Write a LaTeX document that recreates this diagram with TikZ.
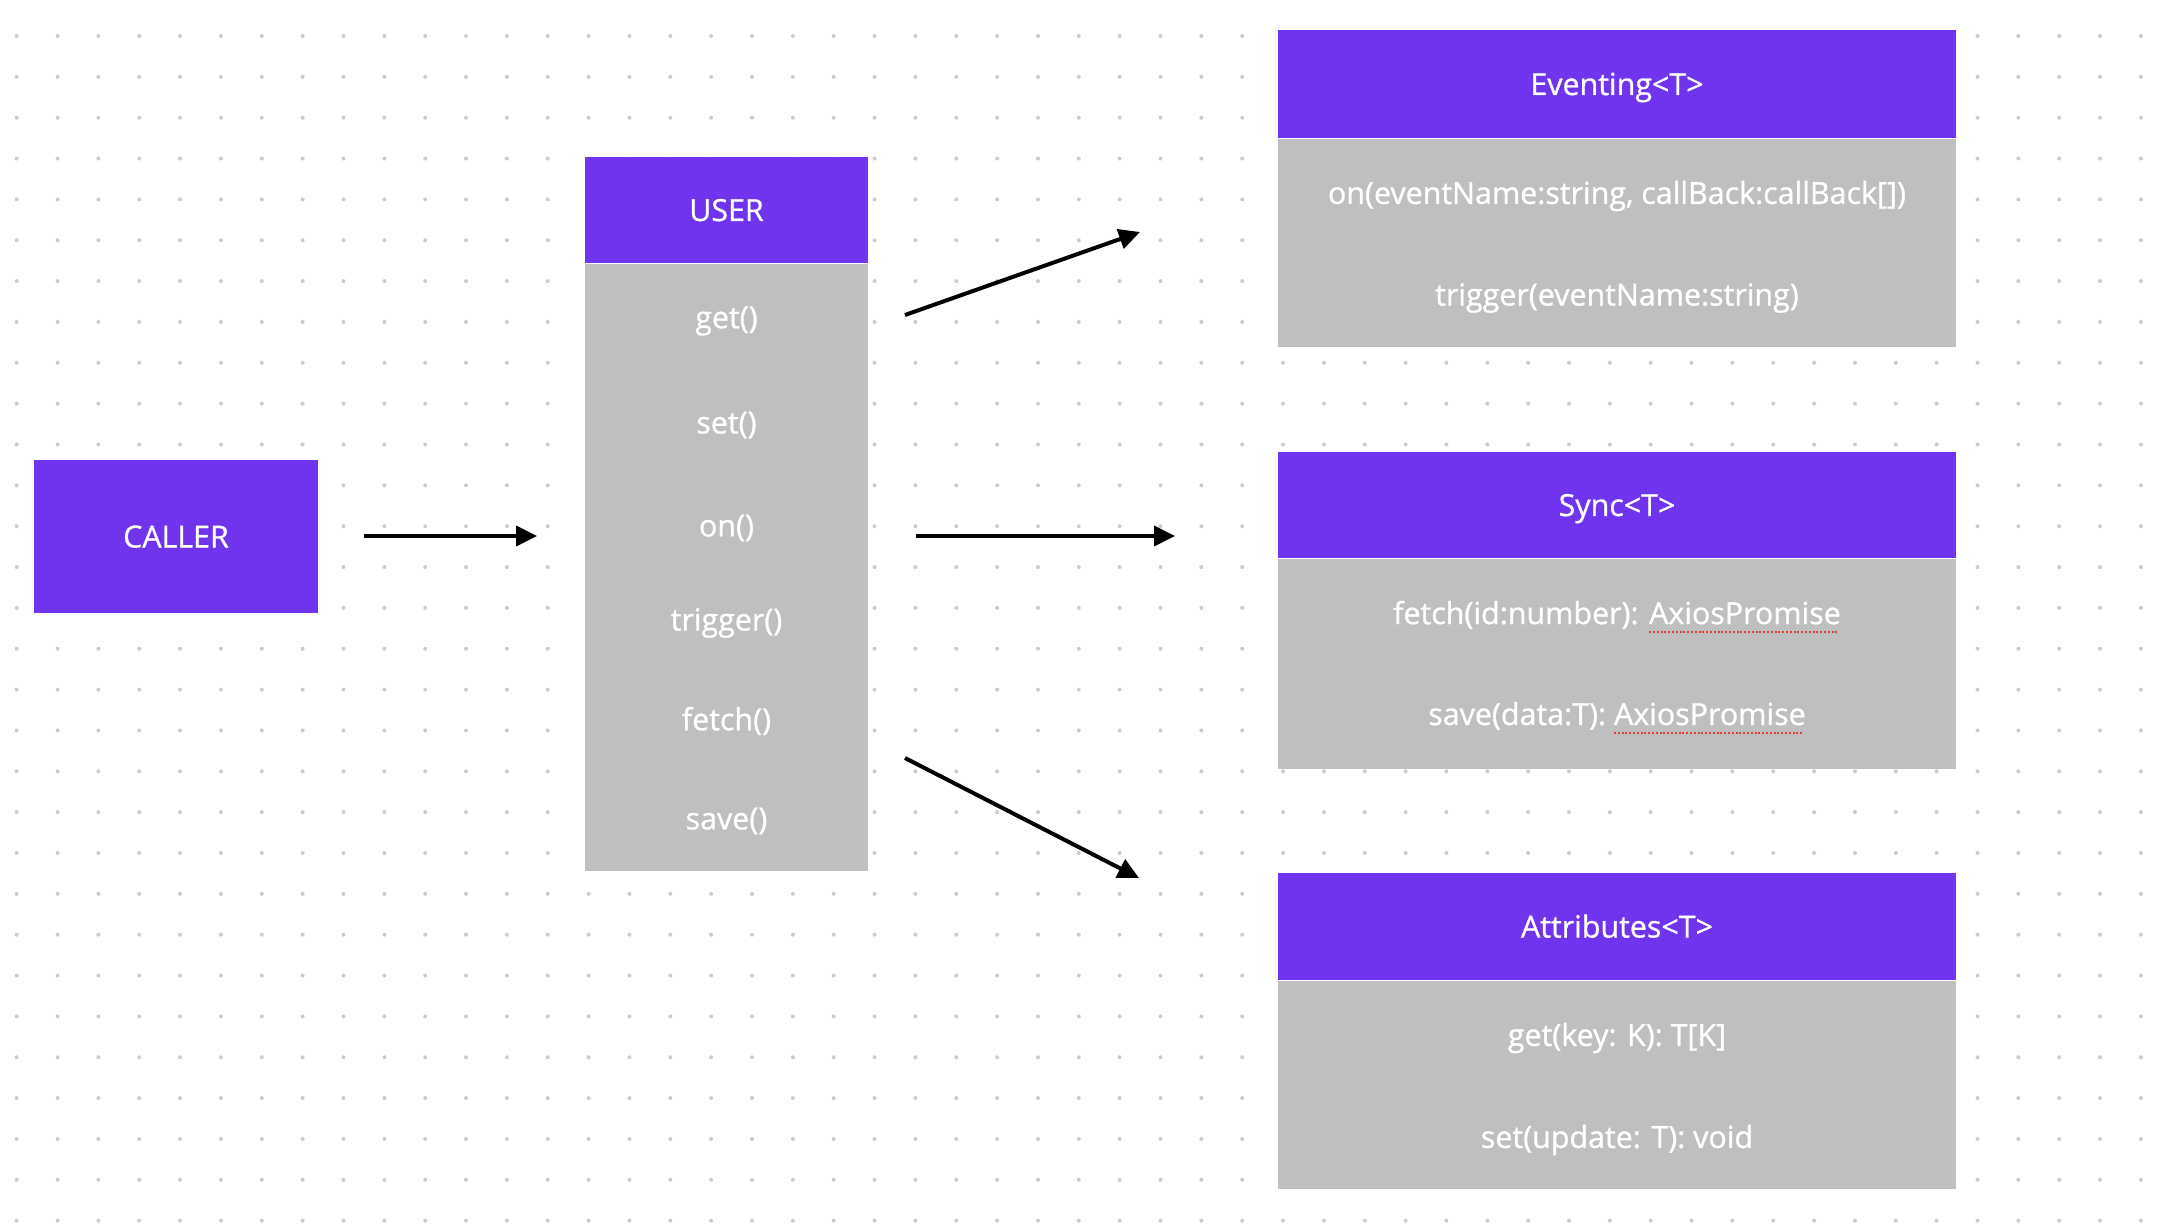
\documentclass[tikz,border=0pt]{standalone}
\usepackage{fontspec}
\setmainfont{Open Sans}
\newfontfamily\medfont{Open Sans}[FakeBold=0.9]
\usetikzlibrary{arrows.meta,positioning}

\definecolor{vio}{RGB}{112,51,238}
\definecolor{boxgray}{RGB}{191,191,191}
\definecolor{dotgray}{RGB}{204,204,204}
\definecolor{spell}{RGB}{226,60,50}

% red dotted underline as in the screenshot
\newcommand\spellul[1]{\begingroup\setbox0\hbox{#1}%
  \rlap{\textcolor{spell}{\leaders\hbox{\rule[-0.3em]{1pt}{1pt}\kern0.9pt}\hskip\wd0}}\box0\endgroup}

\tikzset{
  hdr/.style={fill=vio,text=white,inner sep=0pt,text height=11pt,text depth=0pt,font=\medfont\fontsize{15.2}{17}\selectfont},
  body/.style={fill=boxgray,inner sep=0pt},
  item/.style={text=white,inner sep=0pt,yshift=-1.5pt,font=\medfont\fontsize{15.2}{17}\selectfont},
  link/.style={line width=2pt,-{Triangle[length=10.5pt,width=10pt]}}
}

\begin{document}
\begin{tikzpicture}[x=0.5pt,y=-0.5pt]
\useasboundingbox (0,0) rectangle (2160,1230);
\fill[white] (0,0) rectangle (2160,1230);
% dot grid
\foreach \i in {0,...,52}
  \foreach \j in {0,...,29}
    \fill[dotgray] (16.7+40.85*\i,36+40.85*\j) circle (1pt);

% caller
\node[hdr,minimum width=142pt,minimum height=76.5pt] (caller) at (176,536.5) {CALLER};

% user
\node[hdr,minimum width=141.5pt,minimum height=53pt] (user) at (726.5,210) {USER};
\node[body,minimum width=141.5pt,minimum height=303.5pt] (userb) at (726.5,567.5) {};
\node[item] (uget) at (726.5,318) {get()};
\node[item] (uset) at (726.5,422) {set()};
\node[item] (uon) at (726.5,525) {on()};
\node[item] (utrig) at (726.5,620) {trigger()};
\node[item] (ufetch) at (726.5,718) {fetch()};
\node[item] (usave) at (726.5,818) {save()};

% eventing
\node[hdr,minimum width=339pt,minimum height=54pt] (ev) at (1617,84) {Eventing<T>};
\node[body,minimum width=339pt,minimum height=104pt] (evb) at (1617,243) {};
\node[item] (evon) at (1617,193) {on(eventName:string, callBack:callBack[])};
\node[item] (evtrig) at (1617,295) {trigger(eventName:string)};

% sync
\node[hdr,minimum width=339pt,minimum height=53pt] (sy) at (1617,505) {Sync<T>};
\node[body,minimum width=339pt,minimum height=105pt] (syb) at (1617,664) {};
\node[item] (syfetch) at (1617,614) {fetch(id:number): \spellul{AxiosPromise}};
\node[item] (sysave) at (1617,715) {save(data:T): \spellul{AxiosPromise}};

% attributes
\node[hdr,minimum width=339pt,minimum height=53.5pt] (at) at (1617,926.5) {Attributes<T>};
\node[body,minimum width=339pt,minimum height=104pt] (atb) at (1617,1085) {};
\node[item] (atget) at (1617,1035) {get(key: K): T[K]};
\node[item] (atset) at (1617,1137) {set(update: T): void};

% arrows
\coordinate (c1) at (364,536);  \coordinate (c2) at (537,536);
\coordinate (u1) at (905,315);  \coordinate (e1) at (1140,232);
\coordinate (u2) at (916,536);  \coordinate (s1) at (1175,536);
\coordinate (u3) at (905,758);  \coordinate (a1) at (1139,878);
\draw[link] (c1) -- (c2);
\draw[link] (u1) -- (e1);
\draw[link] (u2) -- (s1);
\draw[link] (u3) -- (a1);
\end{tikzpicture}
\end{document}
